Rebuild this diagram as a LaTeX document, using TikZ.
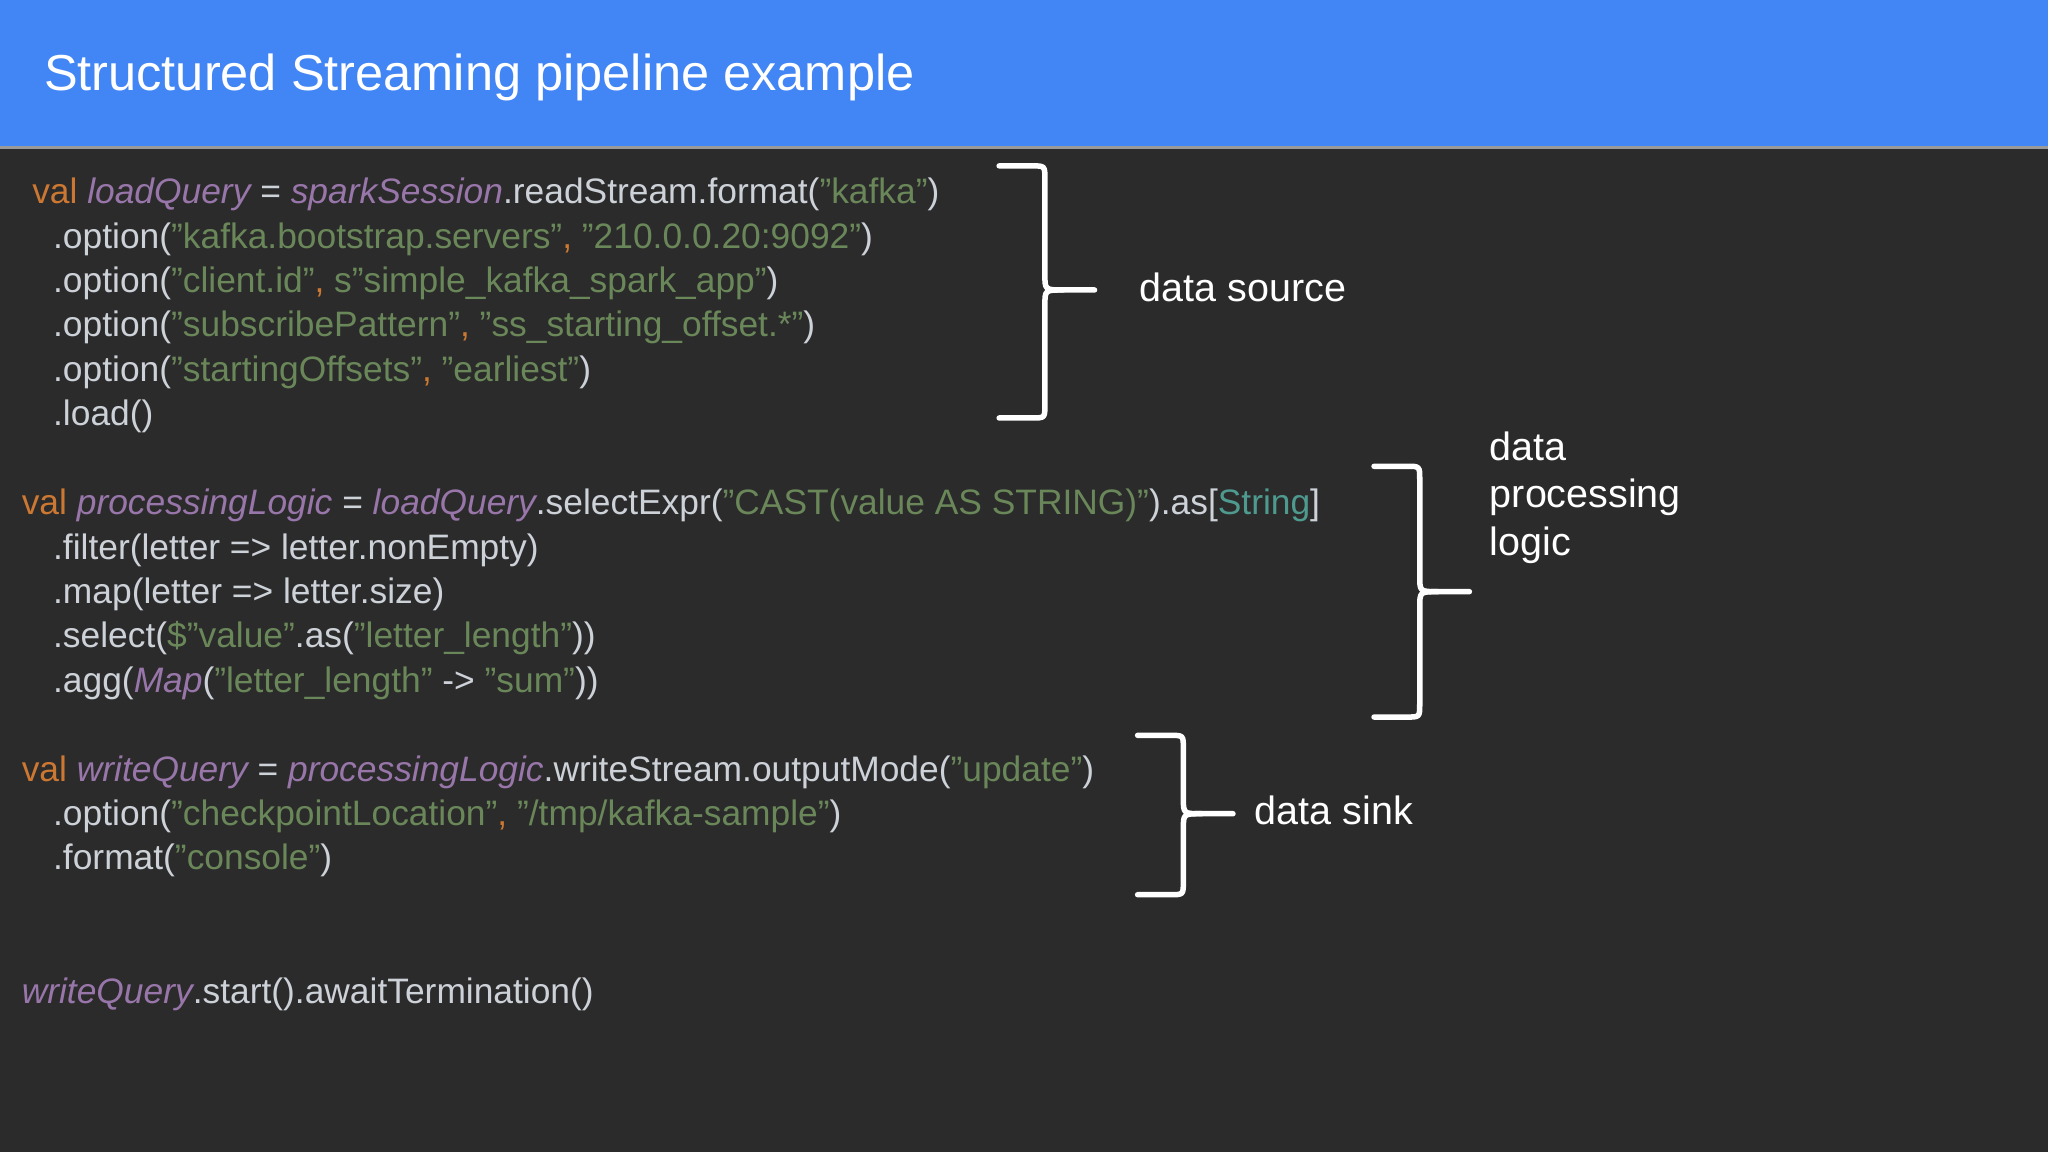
\documentclass[tikz,border=0pt]{standalone}
\usepackage{fontspec}
\setmainfont{Liberation Sans}
\definecolor{bg}{HTML}{2B2B2B}
\definecolor{hdr}{HTML}{4285F4}
\definecolor{codec}{HTML}{CDD1D8}
\definecolor{kwc}{HTML}{CC7832}
\definecolor{pvc}{HTML}{9876AA}
\definecolor{sgc}{HTML}{6A8759}
\definecolor{tyc}{HTML}{4E9A8F}
\newcommand\kwv[1]{\textcolor{kwc}{#1}}
\newcommand\pvi[1]{\textcolor{pvc}{\itshape #1}}
\newcommand\sgr[1]{\textcolor{sgc}{#1}}
\newcommand\tyy[1]{\textcolor{tyc}{#1}}
\newcommand\cma{\textcolor{kwc}{,}}
\tikzset{
  code/.style={anchor=base west,inner sep=0,text=codec,font=\fontsize{7.7pt}{9pt}\selectfont},
  lbl/.style={anchor=base west,inner sep=0,text=white,align=left,font=\fontsize{8.6pt}{10.3pt}\selectfont},
  brace/.style={draw=white,line width=1.2pt,line cap=round,line join=round}
}
\newcommand\bracepath[6]{% L S T A M B
  \draw[brace] (#1,#4) -- ({#2-10},#4) .. controls (#2,#4) .. (#2,{#4+10}) -- (#2,{#5-12}) .. controls (#2,#5) .. ({#2+14},#5) -- (#3,#5);
  \draw[brace] ({#2+14},#5) .. controls (#2,#5) .. (#2,{#5+12}) -- (#2,{#6-10}) .. controls (#2,#6) .. ({#2-10},#6) -- (#1,#6);}
\begin{document}
\begin{tikzpicture}[x=0.01cm,y=-0.01cm]
\fill[bg] (0,0) rectangle (1568,882);
\useasboundingbox (0,0) rectangle (1568,882);
\fill[hdr] (0,0) rectangle (1568,112);
\fill[black!40] (0,112) rectangle (1568,114);
\node[anchor=base west,inner sep=0,text=white,font=\fontsize{11pt}{13pt}\selectfont] (title) at (33,69) {Structured Streaming pipeline example};
% block 1
\node[code] (l1) at (24,156) {\kwv{val} \pvi{loadQuery} = \pvi{sparkSession}.readStream.format(\sgr{"kafka"})};
\node[code] (l2) at (40,190) {.option(\sgr{"kafka.bootstrap.servers"}\cma{} \sgr{"210.0.0.20:9092"})};
\node[code] (l3) at (40,224) {.option(\sgr{"client.id"}\cma{} \sgr{s"simple\_kafka\_spark\_app"})};
\node[code] (l4) at (40,258) {.option(\sgr{"subscribePattern"}\cma{} \sgr{"ss\_starting\_offset.*"})};
\node[code] (l5) at (40,292) {.option(\sgr{"startingOffsets"}\cma{} \sgr{"earliest"})};
\node[code] (l6) at (40,326) {.load()};
% block 2
\node[code] (m1) at (16,394) {\kwv{val} \pvi{processingLogic} = \pvi{loadQuery}.selectExpr(\sgr{"CAST(value AS STRING)"}).as[\tyy{String}]};
\node[code] (m2) at (40,428) {.filter(letter => letter.nonEmpty)};
\node[code] (m3) at (40,462) {.map(letter => letter.size)};
\node[code] (m4) at (40,496) {.select(\sgr{\$"value"}.as(\sgr{"letter\_length"}))};
\node[code] (m5) at (40,530) {.agg(\pvi{Map}(\sgr{"letter\_length"} -> \sgr{"sum"}))};
% block 3
\node[code] (n1) at (16,598) {\kwv{val} \pvi{writeQuery} = \pvi{processingLogic}.writeStream.outputMode(\sgr{"update"})};
\node[code] (n2) at (40,632) {.option(\sgr{"checkpointLocation"}\cma{} \sgr{"/tmp/kafka-sample"})};
\node[code] (n3) at (40,666) {.format(\sgr{"console"})};
\node[code] (o1) at (16,768) {\pvi{writeQuery}.start().awaitTermination()};
% braces
\bracepath{765}{800}{838}{127}{222}{320}
\bracepath{1052}{1087}{1125}{357}{453}{549}
\bracepath{871}{906}{944}{563}{623}{685}
\node[lbl] (s1) at (872,231) {data source};
\node[lbl] (s2) at (1140,425) {data\\[0.1pt]processing\\logic};
\node[lbl] (s3) at (960,631) {data sink};
\end{tikzpicture}
\end{document}
